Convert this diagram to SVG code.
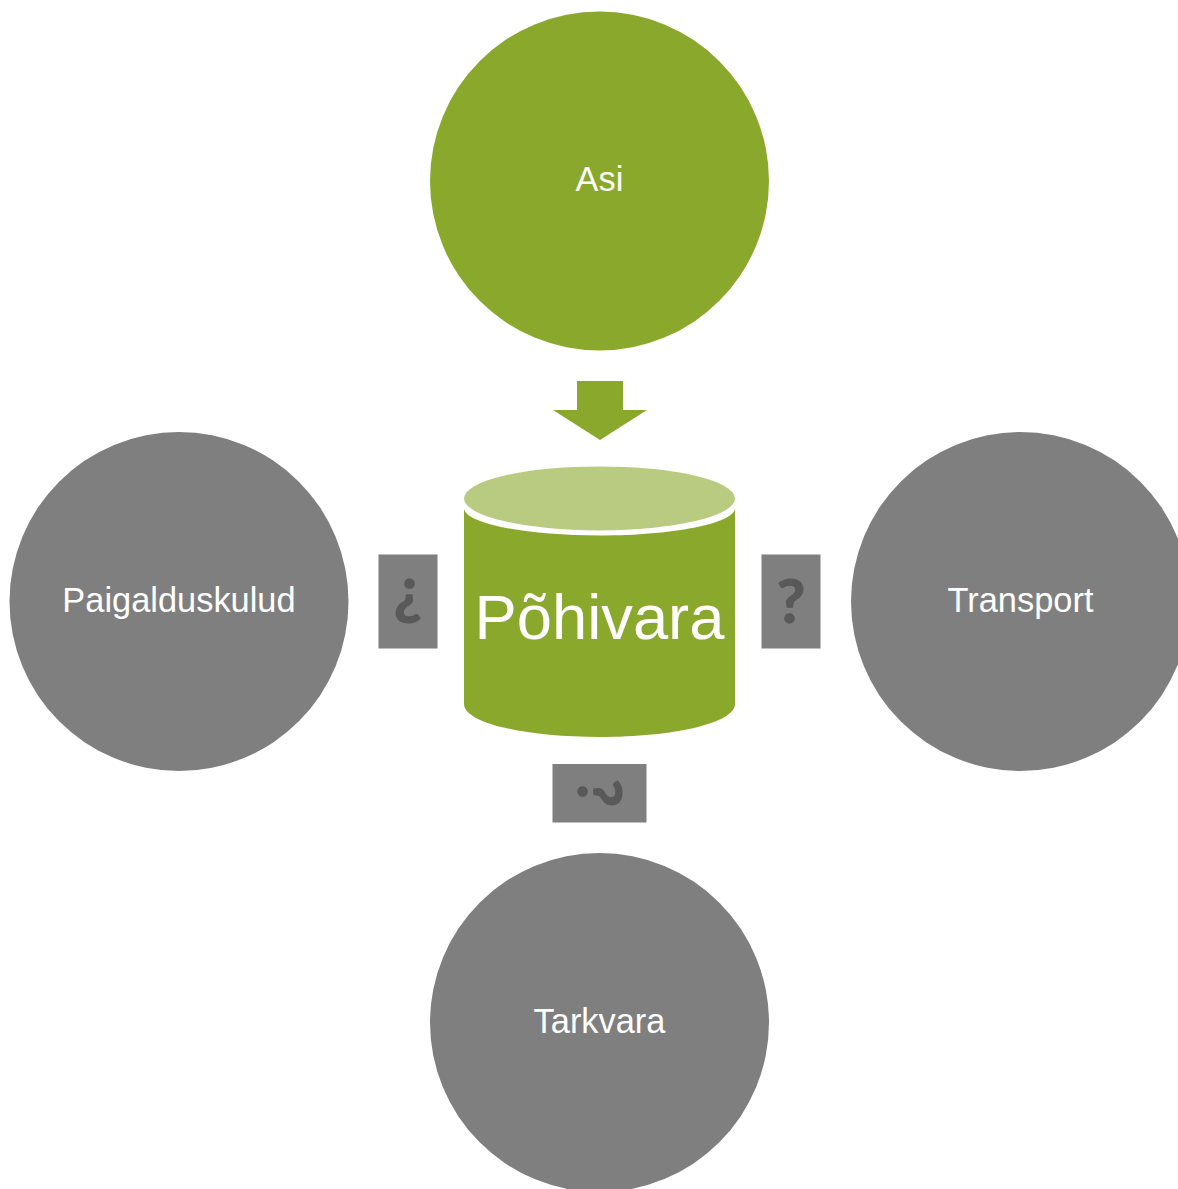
<svg xmlns="http://www.w3.org/2000/svg" width="1178" height="1189" viewBox="0 0 1178 1189">
<style>
text{font-family:"Liberation Sans",Arial,sans-serif;fill:#fff;text-anchor:middle}
.lab{font-size:34.400px}
.gray{fill:#7f7f7f}
.green{fill:#8aa82c}
.box{fill:#7f7f7f}
text.q{font-family:Lato,"Liberation Sans",sans-serif;font-weight:bold;font-size:62px;fill:#595959;stroke:#595959;stroke-width:1.200px}
</style>
<rect width="1178" height="1189" fill="#fff"/>
<g id="connectors">
<polygon class="green" points="577,381 623,381 623,410 647,410 600,440 553,410 577,410"/>
<g id="conn-left"><rect class="box" x="378.500" y="554.500" width="59" height="94"/><text class="q" transform="translate(408,601) rotate(180)" y="22">?</text></g>
<g id="conn-right"><rect class="box" x="761.500" y="554.500" width="59" height="94"/><text class="q" transform="translate(791,601)" y="22">?</text></g>
<g id="conn-bottom"><rect class="box" x="552.500" y="764" width="94" height="58.500"/><text class="q" transform="translate(599.500,793) rotate(90)" y="22">?</text></g>
</g>
<g id="node-asi"><circle class="green" cx="599.500" cy="181" r="169.500"/><text class="lab" x="599.500" y="190.500">Asi</text></g>
<g id="node-paigalduskulud"><circle class="gray" cx="179" cy="601.500" r="169.500"/><text class="lab" x="179" y="611.500">Paigalduskulud</text></g>
<g id="node-transport"><circle class="gray" cx="1020.500" cy="601.500" r="169.500"/><text class="lab" x="1020.500" y="611.500">Transport</text></g>
<g id="node-tarkvara"><circle class="gray" cx="599.500" cy="1022.500" r="169.500"/><text class="lab" x="599.500" y="1032.500">Tarkvara</text></g>
<g id="node-pohivara">
<path class="green" d="M464 508C464 523.200 524.800 535.500 599.500 535.500S735 523.200 735 508V704C735 723 674 737 599.500 737S464 723 464 704Z"/>
<ellipse cx="599.500" cy="498.400" rx="135.500" ry="32" fill="#b9cb80"/>
<text x="599.500" y="639" font-size="63.300">Põhivara</text>
</g>
</svg>
